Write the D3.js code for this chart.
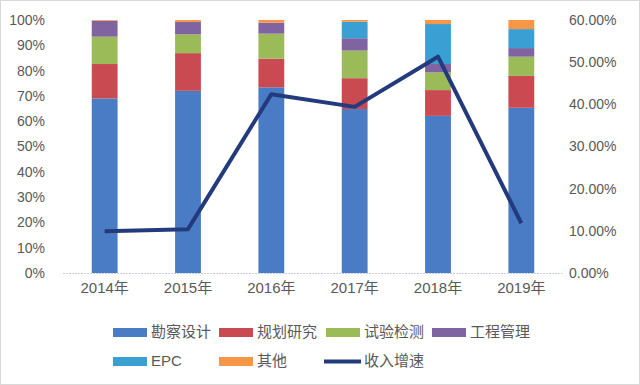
<!DOCTYPE html>
<html>
<head>
<meta charset="utf-8">
<script src="https://cdn.jsdelivr.net/npm/d3@7"></script>
<style>
    body { margin: 0; background: #fff; }
    svg { display: block; font-family: "Liberation Sans", "Noto Sans CJK SC", sans-serif; }
</style>
</head>
<body>
<div id="chart"></div>
<script>
// categories
const years = ["2014年", "2015年", "2016年", "2017年", "2018年", "2019年"];

// stacked shares (percent of revenue)
const kanchaSheji = [69.0, 72.0, 73.4, 64.8, 62.1, 65.3];
const guihuaYanjiu = [13.6, 14.9, 11.3, 12.2, 10.2, 12.6];
const shiyanJiance = [10.8, 7.4, 9.9, 10.9, 7.0, 7.6];
const gongchengGuanli = [6.3, 4.9, 4.3, 4.9, 3.3, 3.4];
const epc = [0.0, 0.0, 0.0, 6.5, 15.8, 7.5];
const qita = [0.3, 0.8, 1.1, 0.7, 1.6, 3.6];

// revenue growth (right axis)
const shouruZengsu = [9.9, 10.4, 42.4, 39.4, 51.3, 11.8];

const seriesNames = ["勘察设计", "规划研究", "试验检测", "工程管理", "EPC", "其他"];
const seriesValues = [kanchaSheji, guihuaYanjiu, shiyanJiance, gongchengGuanli, epc, qita];
const colors = ["#4a7cc6", "#c94a50", "#9bbb59", "#8064a2", "#3aa0d4", "#f79646"];
const lineName = "收入增速";
const lineColor = "#233a7c";

const leftTicks = d3.range(0, 101, 10);
const rightTicks = d3.range(0, 61, 10);

const width = 640, height = 385;
const margin = {top: 20, right: 77, bottom: 112, left: 63};

const svg = d3.select("#chart").append("svg")
    .attr("width", width)
    .attr("height", height);

// outer border
svg.append("rect")
    .attr("x", 0.5).attr("y", 0.5)
    .attr("width", width - 1).attr("height", height - 1)
    .attr("fill", "none")
    .attr("stroke", "#d9d9d9");

const x = d3.scaleBand()
    .domain(years)
    .range([margin.left, width - margin.right])
    .paddingInner(0.69)
    .paddingOuter(0.345);

const yLeft = d3.scaleLinear().domain([0, 100]).range([height - margin.bottom, margin.top]);
const yRight = d3.scaleLinear().domain([0, 60]).range([height - margin.bottom, margin.top]);

// stack the data
const rows = years.map((yr, i) => {
    let row = {year: yr};
    seriesNames.forEach((n, j) => row[n] = seriesValues[j][i]);
    return row;
});
const stacked = d3.stack().keys(seriesNames)(rows);

// bars
svg.append("g")
    .selectAll("g")
    .data(stacked)
    .join("g")
    .attr("fill", (d, i) => colors[i])
    .selectAll("rect")
    .data(d => d)
    .join("rect")
    .attr("x", d => x(d.data.year))
    .attr("width", x.bandwidth())
    .attr("y", d => yLeft(d[1]))
    .attr("height", d => yLeft(d[0]) - yLeft(d[1]));

// baseline
svg.append("line")
    .attr("x1", margin.left).attr("x2", width - margin.right)
    .attr("y1", yLeft(0) + 0.5).attr("y2", yLeft(0) + 0.5)
    .attr("stroke", "#c8d0dc")
    .attr("stroke-dasharray", "2,1");

// left axis
const leftAxis = svg.append("g")
    .attr("transform", `translate(${margin.left - 15},0)`)
    .call(d3.axisLeft(yLeft).tickValues(leftTicks).tickFormat(d => d + "%").tickSize(0));
leftAxis.select(".domain").remove();

// right axis
const rightAxis = svg.append("g")
    .attr("transform", `translate(${width - margin.right + 3},0)`)
    .call(d3.axisRight(yRight).tickValues(rightTicks).tickFormat(d => d.toFixed(2) + "%").tickSize(0));
rightAxis.select(".domain").remove();

// bottom axis
const bottomAxis = svg.append("g")
    .attr("transform", `translate(0,${yLeft(0) + 6})`)
    .call(d3.axisBottom(x).tickSize(0));
bottomAxis.select(".domain").remove();

svg.selectAll(".tick text")
    .attr("fill", "#595959")
    .attr("font-size", "14px")
    .attr("font-family", "'Liberation Sans', 'Noto Sans CJK SC', sans-serif");
bottomAxis.selectAll(".tick text").attr("font-size", "15px");

// growth line
const line = d3.line()
    .x((d, i) => x(years[i]) + x.bandwidth() / 2)
    .y(d => yRight(d));

svg.append("path")
    .datum(shouruZengsu)
    .attr("d", line)
    .attr("fill", "none")
    .attr("stroke", lineColor)
    .attr("stroke-width", 4)
    .attr("stroke-linejoin", "round");

// legend
const legendItems = seriesNames.map((n, i) => ({name: n, color: colors[i], type: "rect"}))
    .concat([{name: lineName, color: lineColor, type: "line"}]);
const legendPos = [
    [113, 332], [219, 332], [326, 332], [432, 332],
    [113, 361], [219, 361], [324, 361]
];

const legend = svg.append("g")
    .selectAll("g")
    .data(legendItems)
    .join("g")
    .attr("transform", (d, i) => `translate(${legendPos[i][0]},${legendPos[i][1]})`);

legend.filter(d => d.type === "rect")
    .append("rect")
    .attr("x", 0).attr("y", -4)
    .attr("width", 34).attr("height", 9)
    .attr("fill", d => d.color);

legend.filter(d => d.type === "line")
    .append("line")
    .attr("x1", 0).attr("x2", 37)
    .attr("y1", 0.5).attr("y2", 0.5)
    .attr("stroke", d => d.color)
    .attr("stroke-width", 4);

legend.append("text")
    .attr("x", d => d.type === "line" ? 40 : 38)
    .attr("y", 0)
    .attr("dy", "0.35em")
    .attr("fill", "#595959")
    .attr("font-size", "15px")
    .attr("font-family", d => d.name === "EPC" ? "'Liberation Sans', sans-serif" : "'Noto Sans CJK SC', sans-serif")
    .text(d => d.name);
</script>
</body>
</html>
